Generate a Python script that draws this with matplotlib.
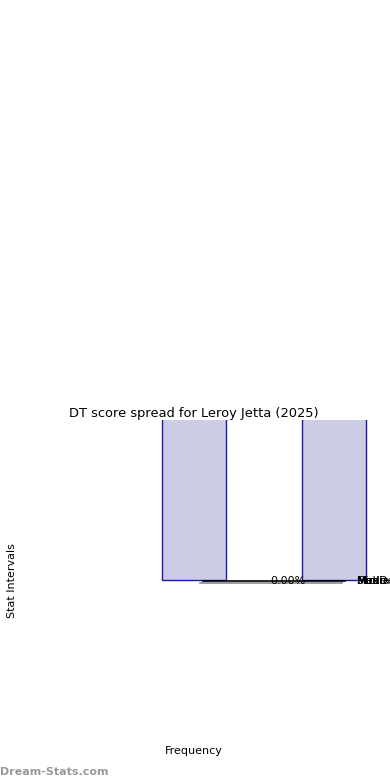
import matplotlib.pyplot as plt
import matplotlib.patheffects as pe

# bar positions / heights (top is clipped by the axes)
bin_pos = [0.50, 0.904]
bin_counts = [5.0, 5.0]
bin_width = 0.184

# summary line and labels
line_x = [0.526, 0.934]
line_y = [-0.006, -0.006]
pct_text = '0.00%'
stat_names = ['Mean', 'Median', 'Mode', 'Min', 'Max', 'Std Dev']

fig = plt.figure(figsize=(3.9, 7.8), dpi=100)
ax = fig.add_axes([0.0513, 0.0513, 0.892, 0.41])

ax.bar(bin_pos, bin_counts, width=bin_width, color='#ccccE5',
       edgecolor='#1a1aa8', linewidth=1)

ax.plot(line_x, line_y, color='black', linewidth=1.2,
        path_effects=[pe.SimpleLineShadow(offset=(-2, -1.5), shadow_color='gray', alpha=0.9),
                      pe.Normal()])

ax.text(0.822, -0.006, pct_text, ha='right', va='center', fontsize=8)
for s in stat_names:
    ax.text(0.968, -0.006, s, ha='left', va='center', fontsize=8)

ax.set_xlim(0, 1)
ax.set_ylim(-1, 1)
for sp in ax.spines.values():
    sp.set_visible(False)
ax.set_xticks([])
ax.set_yticks([])
ax.set_xlabel('Frequency', fontsize=8)
ax.set_ylabel('Stat Intervals', fontsize=8, labelpad=2)
ax.set_title('DT score spread for Leroy Jetta (2025)', fontsize=9.4, pad=2)

fig.text(0.0, 0.004, 'Dream-Stats.com', fontsize=8, color='#999999',
         fontweight='bold', ha='left', va='bottom')

fig.savefig('out.png', dpi=100)
